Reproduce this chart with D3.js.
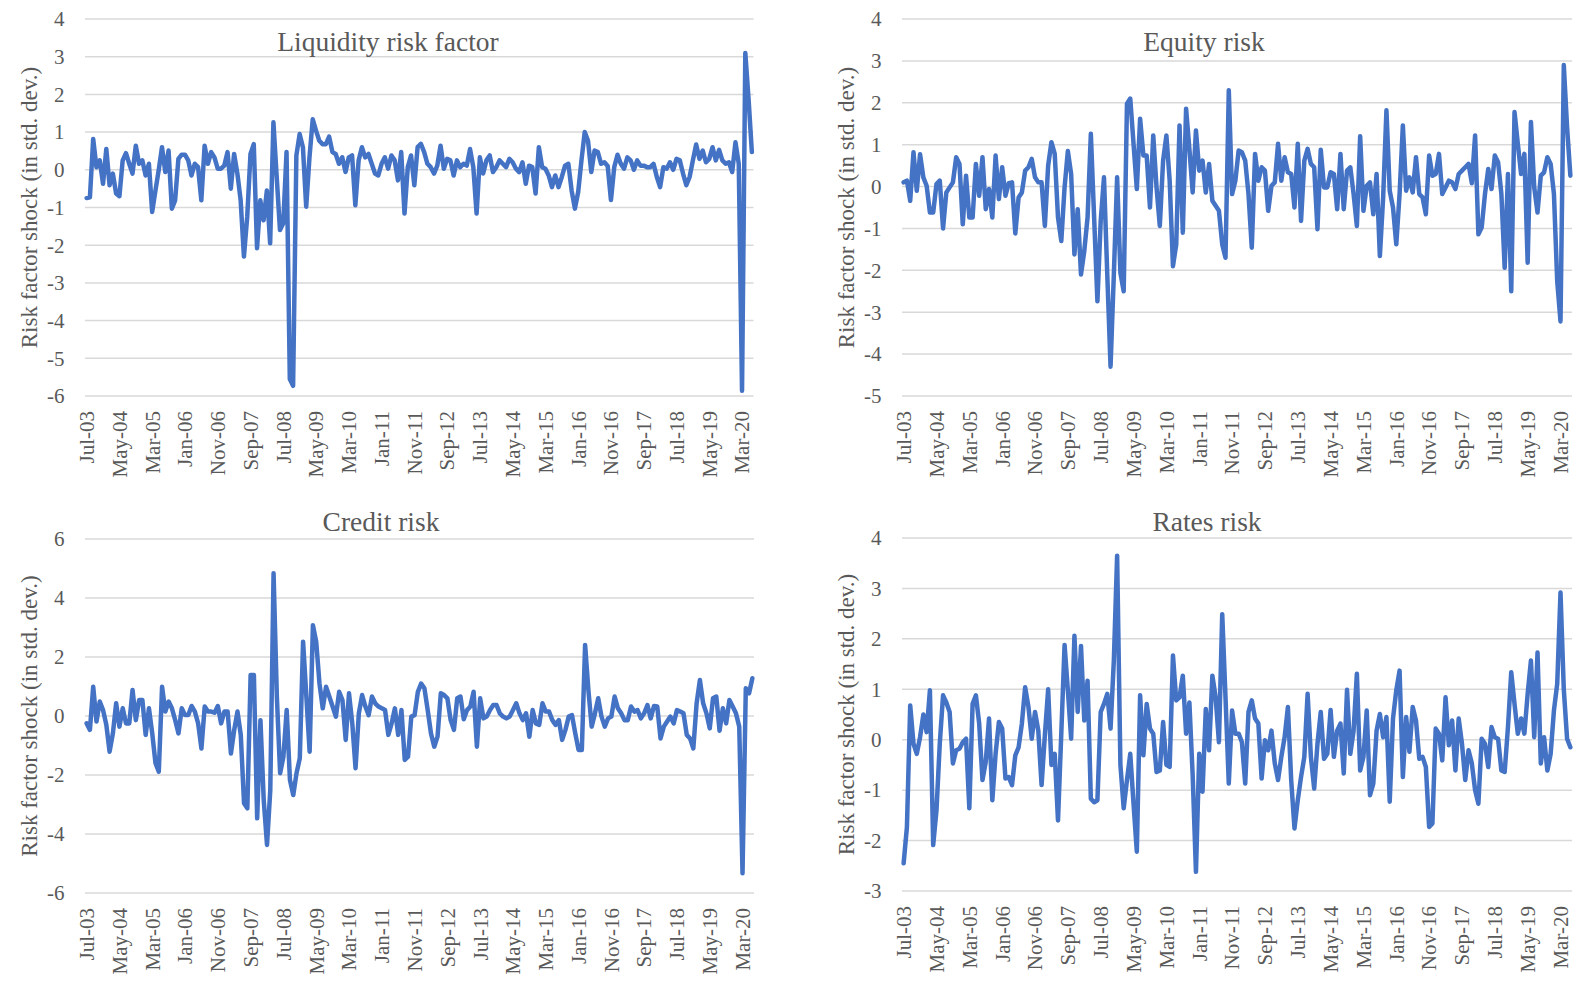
<!DOCTYPE html>
<html>
<head>
<meta charset="utf-8">
<script src="https://cdn.jsdelivr.net/npm/d3@7"></script>
<style>
  html, body { margin: 0; padding: 0; background: #ffffff; }
  svg { display: block; }
</style>
</head>
<body>
<svg id="chart" width="1574" height="982"></svg>
<script>
// Monthly categories, Jul-03 .. Jun-20
const months = d3.timeMonth.range(new Date(2003, 6, 1), new Date(2020, 6, 1));
const formatMonth = d3.timeFormat("%b-%y");
const categories = months.map(formatMonth);
// every tenth month is labelled
const xTickLabels = categories.filter((d, i) => i % 10 === 0);

const titles = ["Liquidity risk factor", "Equity risk", "Credit risk", "Rates risk"];
const yAxisTitle = "Risk factor shock (in std. dev.)";

const liquidityTicks = [4, 3, 2, 1, 0, -1, -2, -3, -4, -5, -6];
const equityTicks = [4, 3, 2, 1, 0, -1, -2, -3, -4, -5];
const creditTicks = [6, 4, 2, 0, -2, -4, -6];
const ratesTicks = [4, 3, 2, 1, 0, -1, -2, -3];

const liquidity = [
  -0.75, -0.73, 0.82, 0.07, 0.25, -0.37, 0.55, -0.41, -0.1, -0.63,
  -0.7, 0.25, 0.44, 0.16, -0.1, 0.64, 0.16, 0.25, -0.15, 0.16,
  -1.12, -0.55, 0, 0.6, -0.06, 0.51, -1.03, -0.81, 0.29, 0.4,
  0.4, 0.25, -0.15, 0.16, 0.07, -0.81, 0.64, 0.16, 0.47, 0.33,
  0.03, 0.03, 0.11, 0.47, -0.5, 0.42, -0.1, -0.81, -2.3, -1.25,
  0.42, 0.68, -2.08, -0.81, -1.34, -0.55, -1.95, 1.26, -0.19, -1.6,
  -1.42, 0.47, -5.55, -5.73, 0.38, 0.95, 0.6, -0.98, 0.33, 1.34,
  1.04, 0.77, 0.68, 0.68, 0.88, 0.47, 0.42, 0.16, 0.33, -0.06,
  0.33, 0.38, -0.94, 0.25, 0.6, 0.33, 0.42, 0.16, -0.1, -0.15,
  0.16, 0.33, 0.03, 0.38, 0.25, -0.28, 0.47, -1.16, 0.07, 0.38,
  -0.41, 0.6, 0.69, 0.47, 0.16, 0.07, -0.1, 0.11, 0.64, 0.03,
  0.29, 0.25, -0.15, 0.25, 0.07, 0.16, 0.11, 0.55, 0.07, -1.16,
  0.33, -0.1, 0.25, 0.38, -0.06, 0.07, 0.25, 0.16, 0.07, 0.29,
  0.2, 0.03, -0.06, 0.2, -0.37, 0.11, 0.07, -0.63, 0.6, 0.07,
  0.03, -0.15, -0.46, -0.15, -0.46, -0.19, 0.11, 0.16, -0.55, -1.03,
  -0.59, 0.25, 1.0, 0.77, -0.06, 0.51, 0.47, 0.16, 0.2, 0.1,
  -0.8, 0.07, 0.4, 0.16, 0.03, 0.33, 0.25, 0, 0.25, 0.11,
  0.11, 0.07, 0.07, 0.16, -0.19, -0.46, 0.07, 0.03, 0.2, 0,
  0.29, 0.25, -0.1, -0.41, -0.19, 0.25, 0.67, 0.29, 0.51, 0.2,
  0.29, 0.6, 0.25, 0.53, 0.25, 0.16, 0.2, -0.06, 0.73, 0.16,
  -5.86, 3.1, 1.87, 0.47
];

const equity = [
  0.1, 0.14, -0.34, 0.82, -0.1, 0.77, 0.22, 0.02, -0.62, -0.62,
  0.06, 0.14, -1.0, -0.14, -0.02, 0.1, 0.7, 0.54, -0.9, 0.26,
  -0.74, -0.74, 0.54, -0.22, 0.7, -0.54, -0.06, -0.74, 0.74, -0.3,
  0.46, -0.22, 0.08, 0.1, -1.12, -0.26, -0.14, 0.38, 0.46, 0.66,
  0.22, 0.1, 0.1, -0.94, 0.5, 1.06, 0.78, -0.74, -1.3, -0.02,
  0.85, 0.3, -1.62, -0.54, -2.1, -1.54, -0.74, 1.26, -0.74, -2.74,
  -0.82, 0.22, -2.1, -4.3, -2.1, 0.22, -2.06, -2.5, 1.98, 2.1,
  1.02, -0.06, 1.62, 0.74, 0.74, -0.5, 1.22, -0.02, -0.94, 0.62,
  1.22, 0.14, -1.9, -1.38, 1.46, -1.1, 1.86, 0.9, -0.14, 1.34,
  0.38, 0.62, -0.14, 0.54, -0.34, -0.46, -0.58, -1.38, -1.7, 2.3,
  -0.18, 0.14, 0.86, 0.82, 0.62, -0.18, -1.46, 0.78, 0.14, 0.46,
  0.38, -0.58, 0.02, 0.1, 1.02, 0.14, 0.7, 0.34, 0.3, -0.5,
  1.02, -0.82, 0.62, 0.9, 0.54, 0.46, -1.02, 0.88, -0.02, -0.02,
  0.34, 0.3, -0.54, 0.78, -0.54, 0.38, 0.46, -0.18, -0.94, 1.2,
  -0.58, 0.02, 0.1, -0.66, 0.3, -1.66, -0.26, 1.82, -0.1, -0.5,
  -1.38, -0.18, 1.46, -0.1, 0.22, -0.14, 0.7, -0.18, -0.26, -0.66,
  0.74, 0.26, 0.3, 0.78, -0.18, -0.02, 0.14, 0.1, -0.06, 0.3,
  0.38, 0.46, 0.54, 0.08, 1.22, -1.14, -0.98, -0.18, 0.42, -0.06,
  0.74, 0.58, -0.18, -1.94, 0.3, -2.5, 1.78, 1.02, 0.3, 0.78,
  -1.82, 1.54, -0.02, -0.62, 0.26, 0.34, 0.7, 0.54, -0.18, -2.26,
  -3.22, 2.9, 1.42, 0.26
];

const credit = [
  -0.25, -0.47, 0.99, -0.19, 0.49, 0.2, -0.3, -1.21, -0.59, 0.43,
  -0.36, 0.26, -0.25, -0.25, 0.88, -0.14, 0.54, 0.54, -0.64, 0.26,
  -0.59, -1.6, -1.89, 0.99, 0.15, 0.49, 0.26, -0.14, -0.59, 0.26,
  0.03, 0.03, 0.34, 0.15, -0.25, -1.1, 0.32, 0.15, 0.15, 0.11,
  0.34, -0.25, 0.15, 0.15, -1.27, -0.47, 0.15, -0.64, -2.96, -3.13,
  1.39, 1.39, -3.47, -0.14, -2.85, -4.37, -2.51, 4.84, 0.66, -1.94,
  -1.38, 0.2, -2.17, -2.68, -1.94, -1.43, 2.52, 0.66, -1.21, 3.08,
  2.52, 1.1, 0.26, 0.99, 0.66, 0.32, -0.02, 0.82, 0.54, -0.81,
  0.77, -0.25, -1.77, 0.09, 0.71, 0.32, 0.03, 0.66, 0.43, 0.32,
  0.26, 0.2, -0.64, -0.25, 0.26, -0.64, 0.2, -1.49, -1.38, -0.02,
  0.03, 0.82, 1.1, 0.94, 0.2, -0.59, -1.04, -0.7, 0.77, 0.71,
  0.6, -0.14, -0.47, 0.6, 0.66, -0.11, 0.2, 0.32, 0.82, -1.04,
  0.6, -0.08, -0.02, 0.2, 0.37, 0.37, 0.09, -0.02, -0.08, -0.02,
  0.2, 0.43, 0.09, -0.14, 0.09, -0.7, 0.2, -0.25, -0.3, 0.43,
  0.15, 0.15, -0.14, -0.3, -0.14, -0.81, -0.47, -0.02, 0.03, -0.59,
  -1.15, -1.15, 2.41, 0.88, -0.36, 0.09, 0.6, -0.02, -0.36, -0.08,
  -0.02, 0.66, 0.26, 0.09, -0.14, -0.14, 0.32, 0.15, 0.2, -0.08,
  0.09, 0.37, -0.08, 0.34, 0.32, -0.76, -0.36, -0.19, -0.02, -0.25,
  0.2, 0.15, 0.09, -0.64, -0.76, -1.1, 0.43, 1.22, 0.43, 0.09,
  -0.42, 0.6, 0.66, -0.5, 0.26, -0.25, 0.54, 0.32, 0.09, -0.36,
  -5.33, 0.94, 0.77, 1.28
];

const rates = [
  -2.45, -1.73, 0.68, -0.08, -0.28, 0.05, 0.5, 0.15, 0.98, -2.09,
  -1.4, -0.08, 0.88, 0.74, 0.55, -0.47, -0.21, -0.18, -0.05, 0.02,
  -1.36, 0.71, 0.88, 0.32, -0.8, -0.44, 0.42, -1.2, -0.28, 0.35,
  0.22, -0.77, -0.74, -0.9, -0.31, -0.15, 0.32, 1.04, 0.65, 0.02,
  0.55, 0.18, -0.9, 0.09, 1.0, -0.5, -0.28, -1.6, 0.12, 1.88,
  0.98, 0.02, 2.06, 0.55, 1.86, 0.38, 1.17, -1.17, -1.24, -1.2,
  0.55, 0.71, 0.91, 0.22, 1.57, 3.65, -0.5, -1.36, -0.8, -0.28,
  -1.27, -2.22, 0.88, -0.31, 0.71, 0.22, 0.12, -0.64, -0.61, 0.35,
  -0.5, -0.54, 1.67, 0.78, 0.84, 1.27, 0.12, 0.74, -0.7, -2.62,
  -0.28, -1.03, 0.61, -0.21, 1.27, 0.84, -0.05, 2.49, 0.84, -0.87,
  0.58, 0.12, 0.12, -0.05, -0.87, 0.55, 0.78, 0.42, 0.32, -0.77,
  -0.01, -0.21, 0.18, -0.47, -0.8, -0.34, 0.05, 0.65, -0.8, -1.76,
  -1.2, -0.74, -0.34, 0.91, -0.34, -0.97, -0.08, 0.55, -0.38, -0.28,
  0.59, -0.34, 0.18, 0.32, -0.67, 0.99, -0.28, 0.18, 1.31, -0.61,
  -0.34, 0.58, -1.1, -0.87, 0.18, 0.51, 0.05, 0.45, -1.23, 0.42,
  0.98, 1.37, -0.74, 0.45, -0.24, 0.65, 0.38, -0.38, -0.34, -0.54,
  -1.73, -1.66, 0.22, 0.12, -0.41, 0.84, -0.11, 0.38, -0.61, 0.42,
  -0.08, -0.8, -0.21, -0.47, -1.0, -1.27, 0.02, -0.08, -0.54, 0.25,
  0.05, 0.02, -0.61, -0.64, 0.25, 1.34, 0.71, 0.12, 0.42, 0.12,
  0.91, 1.57, 0.05, 1.73, -0.47, 0.05, -0.61, -0.28, 0.58, 1.11,
  2.92, 1.0, 0.02, -0.15
];

// Layout of the four small multiples (plot boxes, title anchors)
const panels = [
  { title: titles[0], values: liquidity, ticks: liquidityTicks,
    left: 85, right: 753.5, top: 19, bottom: 396,
    titleX: 388, titleY: 51, yTitleX: 29, labelX: 64.5 },
  { title: titles[1], values: equity, ticks: equityTicks,
    left: 902, right: 1572, top: 19, bottom: 396,
    titleX: 1204, titleY: 51, yTitleX: 846, labelX: 881.5 },
  { title: titles[2], values: credit, ticks: creditTicks,
    left: 85, right: 754, top: 539, bottom: 893,
    titleX: 381, titleY: 531, yTitleX: 29, labelX: 64.5 },
  { title: titles[3], values: rates, ticks: ratesTicks,
    left: 902, right: 1572, top: 538, bottom: 891,
    titleX: 1207, titleY: 531, yTitleX: 846, labelX: 881.5 }
];

const fontStack = "'Liberation Serif', 'Times New Roman', 'DejaVu Serif', serif";
const textColor = "#595959";
const gridColor = "#d9d9d9";
const lineColor = "#4472C4";

const svg = d3.select("#chart")
  .attr("font-family", fontStack);

panels.forEach(p => {
  const g = svg.append("g");

  const x = d3.scaleBand()
    .domain(categories)
    .range([p.left, p.right])
    .paddingInner(0)
    .paddingOuter(0);
  const xc = d => x(d) + x.bandwidth() / 2;

  const y = d3.scaleLinear()
    .domain([d3.min(p.ticks), d3.max(p.ticks)])
    .range([p.bottom, p.top]);

  // horizontal gridlines
  g.selectAll("line.grid")
    .data(p.ticks)
    .join("line")
    .attr("class", "grid")
    .attr("x1", p.left)
    .attr("x2", p.right)
    .attr("y1", d => y(d))
    .attr("y2", d => y(d))
    .attr("stroke", gridColor)
    .attr("stroke-width", 1.5);

  // value axis labels
  g.selectAll("text.ytick")
    .data(p.ticks)
    .join("text")
    .attr("class", "ytick")
    .attr("x", p.labelX)
    .attr("y", d => y(d))
    .attr("dy", "0.35em")
    .attr("text-anchor", "end")
    .attr("font-family", fontStack)
    .attr("font-size", 21)
    .attr("fill", textColor)
    .text(d => String(d));

  // category axis labels, rotated
  g.selectAll("text.xtick")
    .data(xTickLabels)
    .join("text")
    .attr("class", "xtick")
    .attr("transform", d => `translate(${xc(d)},${p.bottom + 15}) rotate(-90)`)
    .attr("dy", "0.35em")
    .attr("text-anchor", "end")
    .attr("font-family", fontStack)
    .attr("font-size", 21)
    .attr("fill", textColor)
    .text(d => d);

  // value axis title
  g.append("text")
    .attr("transform", `translate(${p.yTitleX},${(p.top + p.bottom) / 2}) rotate(-90)`)
    .attr("dy", "0.35em")
    .attr("text-anchor", "middle")
    .attr("font-family", fontStack)
    .attr("font-size", 23)
    .attr("fill", textColor)
    .text(yAxisTitle);

  // chart title
  g.append("text")
    .attr("x", p.titleX)
    .attr("y", p.titleY)
    .attr("text-anchor", "middle")
    .attr("font-family", fontStack)
    .attr("font-size", 27.5)
    .attr("fill", textColor)
    .text(p.title);

  // series line
  const line = d3.line()
    .x((d, i) => xc(categories[i]))
    .y(d => y(d));

  g.append("path")
    .datum(p.values)
    .attr("d", line)
    .attr("fill", "none")
    .attr("stroke", lineColor)
    .attr("stroke-width", 4.5)
    .attr("stroke-linejoin", "round")
    .attr("stroke-linecap", "round");
});
</script>
</body>
</html>
